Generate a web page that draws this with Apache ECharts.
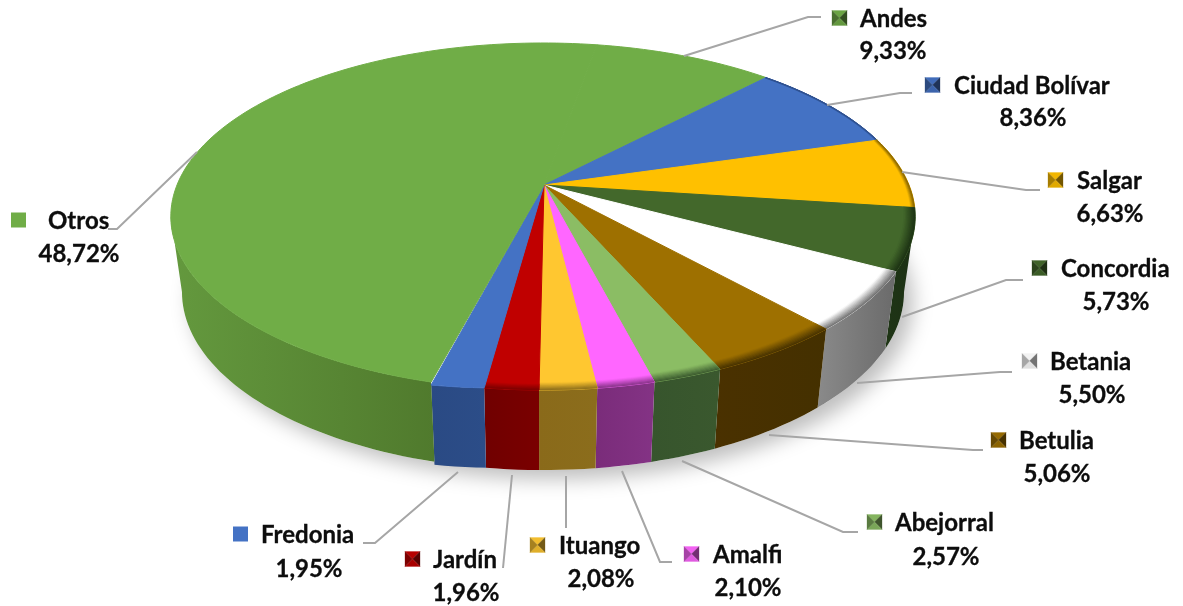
<!DOCTYPE html>
<html style="height: 100%">

<head>
    <meta charset="utf-8">
</head>

<body style="height: 100%; margin: 0; background: #fff">
    <div id="container" style="height: 100%"></div>

    <script src="https://cdn.jsdelivr.net/npm/echarts@6/dist/echarts.min.js"></script>
    <script type="text/javascript">
        // data, clockwise from the notch at the top of the rim
        var municipios = ['Andes', 'Ciudad Bolívar', 'Salgar', 'Concordia', 'Betania', 'Betulia',
            'Abejorral', 'Amalfi', 'Ituango', 'Jardín', 'Fredonia', 'Otros'];
        var porcentajes = [9.33, 8.36, 6.63, 5.73, 5.50, 5.06, 2.57, 2.10, 2.08, 1.96, 1.95, 48.72];

        // colours per slice
        var topColors = ['#70ad47', '#4472c4', '#ffc000', '#43682b', '#ffffff', '#9e7000',
            '#8bbd64', '#ff66ff', '#ffc730', '#c00000', '#4472c4', '#70ad47'];
        var wallColors = [['#507a2e', '#507a2e'], ['#2c4c86', '#2c4c86'], ['#806000', '#806000'],
            ['#1f3516', '#1c3014'], ['#8a8a8a', '#6a6a6a'], ['#4a3100', '#443000'],
            ['#37552d', '#3a582e'], ['#7a2c7a', '#843385'], ['#8a6a1a', '#8b6d1c'],
            ['#700000', '#7a0000'], ['#2a4a84', '#2c4d88'], ['#64993e', '#507a2d']];
        // width of the soft edge between top and wall, as a share of the radius
        var rimSoft = [0, 0.006, 0.012, 0.03, 0.03, 0.035, 0.035, 0.03, 0.03, 0.025, 0, 0];
        var flatKey = [false, false, false, false, false, false, false, false, false, false, true, true];

        // label layout: key x, name x, percent x, name y, percent y
        var labelSpots = [
            [832, 860, 893, 18, 50], [925, 954, 1033, 85, 117], [1048, 1077, 1110, 180, 213],
            [1032, 1061, 1116, 268, 301], [1022, 1050, 1092, 361, 394], [991, 1019, 1057, 440, 473],
            [867, 895, 946, 522, 556], [684, 713, 748, 554, 587], [530, 559, 601, 545, 578],
            [405, 433, 466, 559, 592], [233, 261, 309, 534, 568], [11, 48, 79, 220, 253]
        ];
        var leaderPaths = [
            [[684, 56], [808, 17], [821, 17]], [[827, 105], [900, 93], [912, 93]],
            [[902, 172], [1026, 190], [1040, 190]], [[902, 317], [1006, 280], [1023, 280]],
            [[857, 383], [1000, 372], [1012, 372]], [[769, 435], [973, 450], [983, 450]],
            [[682, 461], [843, 532], [858, 532]], [[622, 471], [660, 562], [672, 562]],
            [[566, 476], [566, 528]], [[512, 475], [503, 568]],
            [[458, 472], [375, 543], [363, 543]], [[197, 152], [117, 229], [108, 229]]
        ];

        // perspective disc: the centre of the circle lands on the apex, not on the ellipse centre
        var apexX = 544, apexY = 185, radX = 366, radY = 167.8, tilt = -0.1816, lean = -1;
        var startDeg = 10, fredoniaSlip = 3;
        // how the lower rim sits against the upper one
        var topRim = { drop: 0, sx: 1, sy: 1 };
        var lowRim = { drop: 74.7, sx: 0.97, sy: 1.026 };
        // the part of the rim that faces the viewer, between the two silhouette tangents
        var frontFrom = 100.46, frontTo = 259.54;

        var total = porcentajes.reduce(function (a, b) { return a + b; }, 0);

        function sliceSpan(i) {
            var before = 0;
            for (var k = 0; k < i; k++) before += porcentajes[k];
            return [startDeg + before / total * 360, startDeg + (before + porcentajes[i]) / total * 360];
        }

        function rimPoint(deg, r, rim) {
            var a = deg * Math.PI / 180;
            var u = Math.sin(a) * r, v = -Math.cos(a) * r;
            var w = 1 + tilt * v;
            return [apexX + lean * r + radX * rim.sx * u / w, apexY + rim.drop + radY * rim.sy * v / w];
        }

        // points along the rim of slice i; only Fredonia slips a little lower towards its end
        function rimLine(i, r, rim, frontOnly) {
            var span = sliceSpan(i);
            var from = frontOnly ? Math.max(span[0], frontFrom) : span[0];
            var to = frontOnly ? Math.min(span[1], frontTo) : span[1];
            var steps = Math.max(4, Math.ceil((to - from) / 1.5));
            var pts = [];
            for (var s = 0; s <= steps; s++) {
                var t = s / steps;
                var p = rimPoint(from + (to - from) * t, r, rim);
                if (i === 10) p[1] += fredoniaSlip * t;
                pts.push(p);
            }
            return pts;
        }

        function mix(c1, c2, t) {
            var a = echarts.color.parse(c1), b = echarts.color.parse(c2);
            return 'rgb(' + [0, 1, 2].map(function (k) {
                return Math.round(a[k] + (b[k] - a[k]) * t);
            }).join(',') + ')';
        }

        function renderShadow() {
            var pts = [];
            for (var d = 0; d < 360; d += 2) pts.push(rimPoint(d, 1, lowRim));
            return {
                type: 'polygon',
                shape: { points: pts },
                style: {
                    fill: '#fff',
                    shadowColor: 'rgba(0,0,0,0.26)',
                    shadowBlur: 20,
                    shadowOffsetX: 9,
                    shadowOffsetY: 9
                }
            };
        }

        function renderWall(params) {
            var i = params.dataIndex;
            var span = sliceSpan(i);
            if (span[1] <= frontFrom || span[0] >= frontTo) return null;
            var top = rimLine(i, 1, topRim, true);
            var bottom = rimLine(i, 1, lowRim, true);
            var xs = top.concat(bottom).map(function (p) { return p[0]; });
            var fill = {
                type: 'linear', global: true,
                x: Math.min.apply(null, xs), y: 0, x2: Math.max.apply(null, xs), y2: 0,
                colorStops: [
                    { offset: 0, color: wallColors[i][0] },
                    { offset: 1, color: wallColors[i][1] }
                ]
            };
            return {
                type: 'polygon',
                shape: { points: top.concat(bottom.reverse()) },
                style: { fill: fill }
            };
        }

        function renderTop(params) {
            var i = params.dataIndex;
            var rim = rimLine(i, 1, topRim);
            var children = [{
                type: 'polygon',
                shape: { points: [[apexX, apexY]].concat(rim) },
                style: { fill: topColors[i], stroke: topColors[i], lineWidth: 1 }
            }];
            var soft = rimSoft[i];
            var bands = 8;
            for (var b = 0; soft > 0 && b < bands; b++) {
                var r1 = 1 - soft + soft * b / bands;
                var r2 = 1 - soft + soft * (b + 1) / bands;
                var outer = rimLine(i, r2, topRim);
                var inner = rimLine(i, r1, topRim).reverse();
                var col = mix(topColors[i], wallColors[i][1], (b + 0.5) / bands);
                children.push({
                    type: 'polygon',
                    shape: { points: outer.concat(inner) },
                    style: { fill: col, stroke: col, lineWidth: 0.5 }
                });
            }
            return { type: 'group', children: children };
        }

        function keyParts(i, x, y) {
            var size = 15, base = topColors[i];
            var x0 = x, y0 = y - size / 2, x1 = x + size, y1 = y + size / 2;
            if (flatKey[i]) {
                return [{ type: 'rect', shape: { x: x0, y: y0, width: size, height: size }, style: { fill: base } }];
            }
            var cx = x + size / 2, cy = y;
            var faces = [
                [[x0, y0], [x1, y0], [cx, cy], mix(base, '#000000', 0.05)],
                [[x1, y0], [x1, y1], [cx, cy], mix(base, '#000000', 0.55)],
                [[x1, y1], [x0, y1], [cx, cy], mix(base, '#000000', 0.12)],
                [[x0, y1], [x0, y0], [cx, cy], mix(base, '#000000', 0.35)]
            ];
            return faces.map(function (f) {
                return { type: 'polygon', shape: { points: f.slice(0, 3) }, style: { fill: f[3], stroke: f[3], lineWidth: 0.3 } };
            });
        }

        function renderLabel(params, api) {
            var i = params.dataIndex;
            var spot = labelSpots[i];
            var textStyle = {
                fontFamily: 'Lato', fontWeight: 'bold', fontSize: 24, fill: '#0d0d0d',
                stroke: '#0d0d0d', lineWidth: 0.3, verticalAlign: 'middle'
            };
            var pct = api.value(0).toFixed(2).replace('.', ',') + '%';
            var parts = [{
                type: 'polyline',
                shape: { points: leaderPaths[i] },
                style: { fill: 'none', stroke: '#a6a6a6', lineWidth: 2 }
            }].concat(keyParts(i, spot[0], spot[3]));
            parts.push({
                type: 'text',
                style: Object.assign({ text: municipios[i], x: spot[1], y: spot[3] + 1, align: 'left' }, textStyle)
            });
            parts.push({
                type: 'text',
                style: Object.assign({ text: pct, x: spot[2], y: spot[4] + 1, align: 'center' }, textStyle)
            });
            return { type: 'group', children: parts };
        }

        function layer(renderItem, data) {
            return {
                type: 'custom',
                coordinateSystem: 'none',
                silent: true,
                renderItem: renderItem,
                data: data
            };
        }

        var myChart = echarts.init(document.getElementById('container'));
        var option = {
            animation: false,
            series: [
                layer(renderShadow, [1]),
                layer(renderWall, porcentajes),
                layer(renderTop, porcentajes),
                layer(renderLabel, porcentajes)
            ]
        };
        myChart.setOption(option);
    </script>
</body>

</html>
